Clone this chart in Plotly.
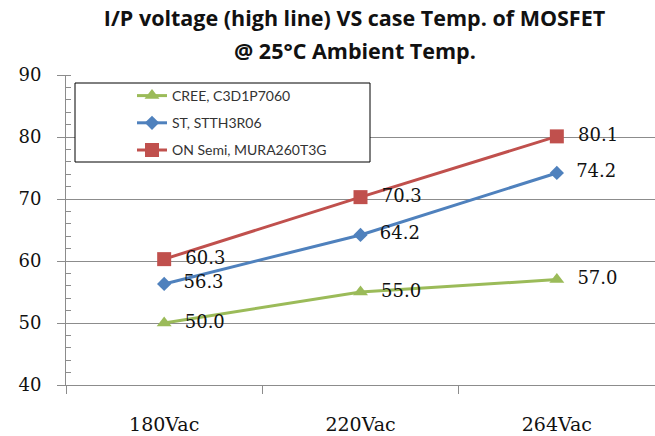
import plotly.graph_objects as go

categories = ["180Vac", "220Vac", "264Vac"]
cree = [50.0, 55.0, 57.0]
st = [56.3, 64.2, 74.2]
onsemi = [60.3, 70.3, 80.1]
names = ["CREE, C3D1P7060", "ST, STTH3R06", "ON Semi, MURA260T3G"]

W, H = 655, 436
L, R, T, B = 66, 0, 75, 51
pw, ph = W - L - R, H - T - B

def px(x):
    return (x - L) / pw

def py(y):
    return (H - B - y) / ph

series = [
    (names[0], cree, "#9BBB59", "triangle-up", 13),
    (names[1], st, "#4F81BD", "diamond", 11),
    (names[2], onsemi, "#C0504D", "square", 14),
]

fig = go.Figure()
for i, (nm, vals, col, sym, sz) in enumerate(series):
    fig.add_trace(go.Scatter(
        x=categories, y=vals, name=nm, legendgroup=str(i),
        mode="lines+markers+text",
        line=dict(color=col, width=3),
        marker=dict(color=col, symbol=sym, size=sz, line=dict(width=0)),
        text=["\u00a0\u00a0" + f"{v:.1f}" for v in vals],
        textposition="middle right",
        textfont=dict(family="DejaVu Serif", size=18, color="#111111"),
        cliponaxis=False,
    ))

grid = "#8C8C8C"
title_font = dict(family="Open Sans", size=21.5, color="#111111", weight=700)
fig.update_layout(
    width=W, height=H,
    margin=dict(l=L, r=R, t=T, b=B, pad=0),
    paper_bgcolor="white", plot_bgcolor="white",
    title=dict(text="I/P voltage (high line) VS case Temp. of MOSFET",
               x=354.5 / W, xanchor="center", xref="container",
               y=1 - 18 / H, yanchor="middle", yref="container",
               font=title_font),
    showlegend=True,
    legend=dict(x=px(132), y=py(80), xanchor="left", yanchor="top",
                bgcolor="rgba(0,0,0,0)", borderwidth=0,
                font=dict(family="Lato", size=14, color="#333333"),
                tracegroupgap=6, traceorder="grouped"),
    xaxis=dict(type="category", range=[-0.5, 2.5], tickson="boundaries",
               ticks="outside", ticklen=8, tickcolor=grid, showgrid=False,
               showline=True, linecolor=grid, linewidth=1,
               tickfont=dict(family="DejaVu Serif", size=19, color="#111111"),
               ticklabelstandoff=22, fixedrange=True),
    yaxis=dict(range=[40, 90], dtick=10, tick0=40, ticks="outside", ticklen=8,
               tickcolor=grid, showgrid=True, gridcolor=grid, gridwidth=1,
               showline=True, linecolor=grid, linewidth=1, zeroline=False,
               minor=dict(dtick=2, ticks="inside", ticklen=5, tickcolor=grid, showgrid=False),
               tickfont=dict(family="DejaVu Serif", size=18, color="#111111"),
               ticklabelstandoff=12),
    yaxis2=dict(range=[40, 90], overlaying="y", side="left", showticklabels=False,
                showgrid=False, zeroline=False, showline=False, ticks="",
                minor=dict(dtick=2, ticks="outside", ticklen=5, tickcolor=grid, showgrid=False)),
    annotations=[dict(text="@ 25°C Ambient Temp.", x=px(354.5), xref="paper",
                      y=py(50), yref="paper", xanchor="center", yanchor="middle",
                      showarrow=False, font=title_font)],
    shapes=[dict(type="rect", xref="paper", yref="paper",
                 x0=px(75), x1=px(370), y0=py(162), y1=py(83),
                 line=dict(color="black", width=1), fillcolor="white", layer="above")],
)

fig.write_html("out.html")
